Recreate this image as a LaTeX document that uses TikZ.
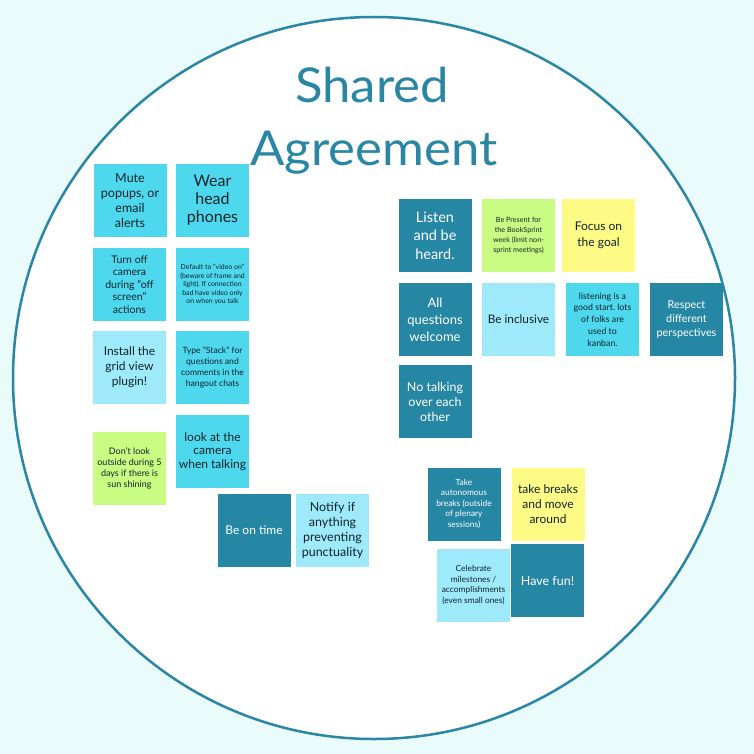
\documentclass[tikz,border=0pt]{standalone}
\usepackage{fontspec}
\setmainfont{Lato}
\newfontfamily\titlefont{Lato}[FakeStretch=1.06]

\definecolor{pagebg}{HTML}{E9FBFB}
\definecolor{ringteal}{HTML}{2A86A5}
\definecolor{darkteal}{HTML}{2687A5}
\definecolor{cyannote}{HTML}{4DD8EE}
\definecolor{paleblue}{HTML}{9FEAFA}
\definecolor{limenote}{HTML}{CAFC84}
\definecolor{yellownote}{HTML}{FDFB86}
\definecolor{inktext}{HTML}{10232A}

\tikzset{
  note/.style={fill=#1, text=inktext, align=center, minimum width=73pt,
    minimum height=73pt, inner sep=0pt},
  darknote/.style={note=darkteal, text=white},
  fs/.style 2 args={font=\fontsize{#1}{#2}\selectfont}
}

\begin{document}
\frenchspacing
\begin{tikzpicture}[x=1pt, y=-1pt]
\useasboundingbox[fill=pagebg] (0,0) rectangle (754,754);

\draw[line width=2.5pt, draw=ringteal, fill=white] (374,378) circle [radius=361pt];

\node[anchor=base, text=ringteal, font=\titlefont\fontsize{48}{56}\selectfont] (shared) at (372,103) {Shared};
\node[anchor=base, text=ringteal, font=\titlefont\fontsize{48}{56}\selectfont] (agreement) at (374,166) {Agreement};

% left block
\node[note=cyannote, fs={12.5}{15}] (mute) at (130,200.5) {Mute\\popups, or\\email\\alerts};
\node[note=cyannote, fs={16}{18}] (wear) at (212.5,200.5) {Wear\\head\\phones};
\node[note=cyannote, fs={10.5}{12.5}] (camoff) at (129.5,284.5) {Turn off\\camera\\during "off\\screen"\\actions};
\node[note=cyannote, fs={6.9}{8.5}] (videoon) at (212.5,284.5) {Default to "video on"\\(beware of frame and\\light). If connection\\bad have video only\\on when you talk};
\node[note=paleblue, fs={12}{15}] (gridview) at (129.5,367.5) {Install the\\grid view\\plugin!};
\node[note=cyannote, fs={8.6}{11}] (stack) at (212.5,367.5) {Type "Stack" for\\questions and\\comments in the\\hangout chats};
\node[note=limenote, fs={9}{11}] (outside) at (129.5,468.5) {Don't look\\outside during 5\\days if there is\\sun shining};
\node[note=cyannote, fs={12}{13.5}] (lookcam) at (212.5,451.5) {look at the\\camera\\when talking};
\node[darknote, fs={12}{15}] (ontime) at (254,530.5) {Be on time};
\node[note=paleblue, fs={12.5}{15}] (notify) at (332.5,530.5) {Notify if\\anything\\preventing\\punctuality};

% right block
\node[darknote, fs={14.5}{18.5}] (listen) at (435,235.5) {Listen\\and be\\heard.};
\node[note=limenote, fs={7.2}{9.8}] (present) at (518.5,235.5) {Be Present for\\the BookSprint\\week (limit non-\\sprint meetings)};
\node[note=yellownote, fs={12}{16}] (goal) at (598.5,235.5) {Focus on\\the goal};
\node[darknote, fs={13}{17}] (questions) at (435,319.5) {All\\questions\\welcome};
\node[note=paleblue, fs={11.8}{13}] (inclusive) at (518.5,319.5) {Be inclusive};
\node[note=cyannote, fs={8.8}{11.8}] (kanban) at (602.5,319.5) {listening is a\\good start. lots\\of folks are\\used to\\kanban.};
\node[darknote, fs={10.8}{14}] (respect) at (686.5,319.5) {Respect\\different\\perspectives};
\node[darknote, fs={12.5}{15}] (notalk) at (435,401.5) {No talking\\over each\\other};

% bottom block
\node[darknote, fs={8.4}{10.5}] (autonomous) at (464,504) {Take\\autonomous\\breaks (outside\\of plenary\\sessions)};
\node[note=yellownote, fs={12}{15}] (breaks) at (548,504) {take breaks\\and move\\around};
\node[note=paleblue, fs={8.4}{10.8}] (milestones) at (473.5,585) {Celebrate\\milestones /\\accomplishments\\(even small ones)};
\node[darknote, fs={12.5}{15}] (fun) at (547.5,580.5) {Have fun!};
\end{tikzpicture}
\end{document}
